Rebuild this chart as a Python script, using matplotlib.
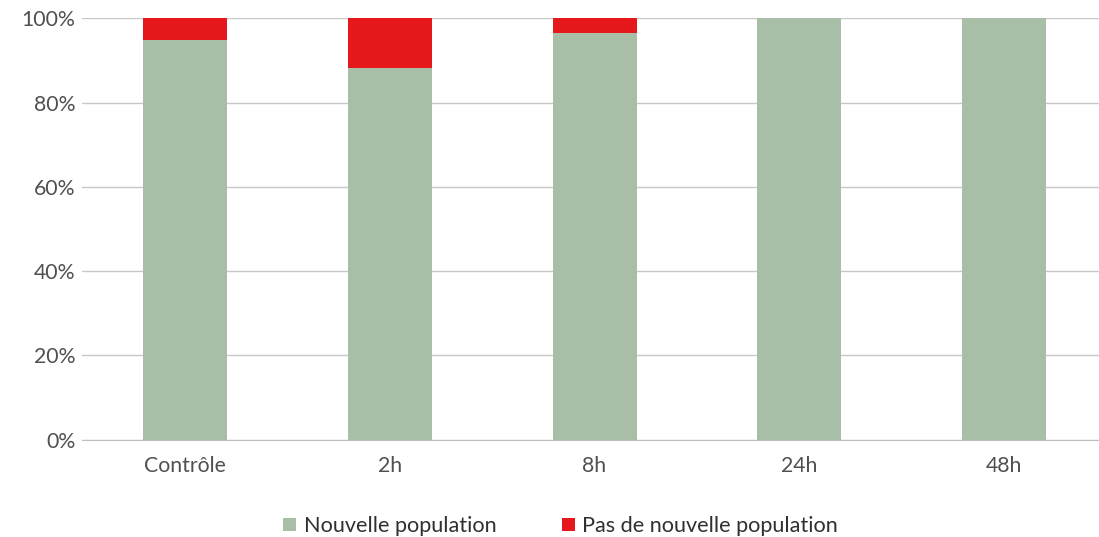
import matplotlib
matplotlib.use("Agg")
import matplotlib.pyplot as plt
from matplotlib.ticker import PercentFormatter

categories = ["Contrôle", "2h", "8h", "24h", "48h"]
nouvelle = [94.8, 88.2, 96.4, 100.0, 100.0]
pas_nouvelle = [5.2, 11.8, 3.6, 0.0, 0.0]
yticks = [0, 20, 40, 60, 80, 100]

plt.rcParams['font.family'] = ['Lato', 'DejaVu Sans']

fig = plt.figure(figsize=(10.99, 5.37), dpi=100)
ax = fig.add_axes([0.075, 0.181, 0.932, 0.785])

x = range(len(categories))
green = "#a8bea6"
red = "#e5191c"
ax.bar(x, nouvelle, width=0.41, color=green, label="Nouvelle population", zorder=3)
ax.bar(x, pas_nouvelle, width=0.41, bottom=nouvelle, color=red,
       label="Pas de nouvelle population", zorder=3)

ax.set_ylim(0, 100)
ax.set_xlim(-0.5, len(categories) - 0.5)
ax.set_yticks(yticks)
ax.yaxis.set_major_formatter(PercentFormatter(decimals=0))
ax.set_xticks(list(x))
ax.set_xticklabels(categories)
ax.grid(axis="y", color="#c8c8c8", linewidth=1.0, zorder=0)
for s in ["top", "right", "left"]:
    ax.spines[s].set_visible(False)
ax.spines["bottom"].set_color("#bfbfbf")
ax.tick_params(axis="both", length=0, labelsize=15.3, colors="#505050")
ax.tick_params(axis="y", pad=5)
ax.tick_params(axis="x", pad=12)

ax.legend(loc="lower center", bbox_to_anchor=(0.467, -0.275), ncol=2, frameon=False,
          fontsize=15.6, handlelength=0.6, handleheight=0.6, handletextpad=0.35,
          columnspacing=3.0, labelcolor="#303030")

fig.savefig("out.png", dpi=100, facecolor="white")
